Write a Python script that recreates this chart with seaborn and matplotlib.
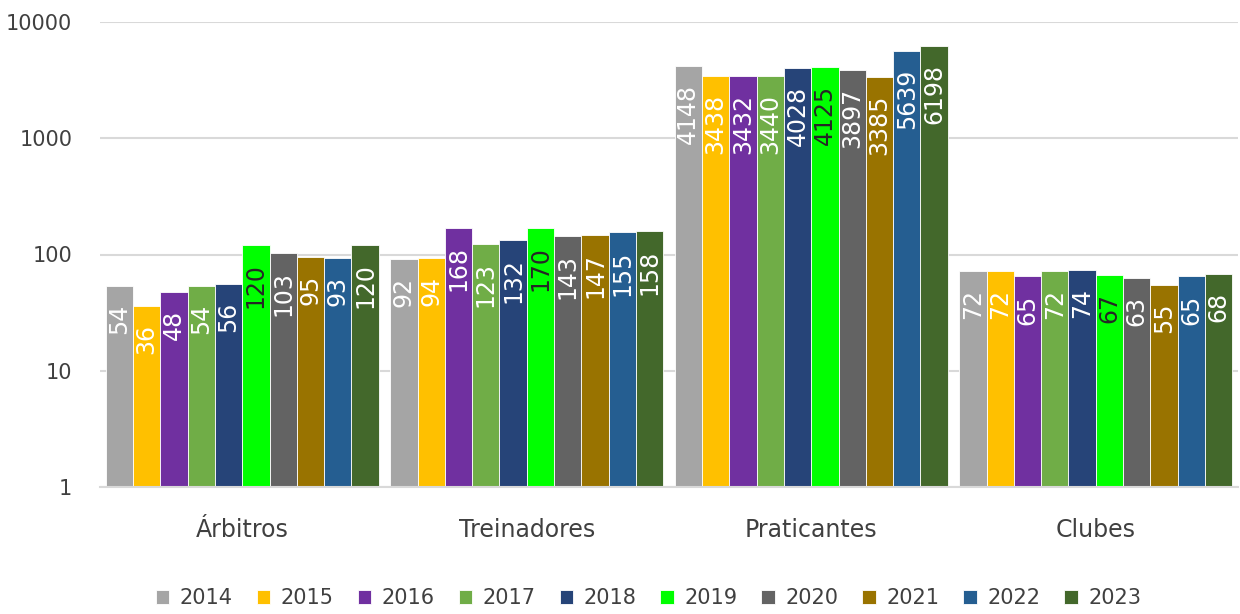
import pandas as pd
import matplotlib.pyplot as plt
import seaborn as sns

# dados
categorias = ['Árbitros', 'Treinadores', 'Praticantes', 'Clubes']
anos = ['2014', '2015', '2016', '2017', '2018', '2019', '2020', '2021', '2022', '2023']
arbitros = [54, 36, 48, 54, 56, 120, 103, 95, 93, 120]
treinadores = [92, 94, 168, 123, 132, 170, 143, 147, 155, 158]
praticantes = [4148, 3438, 3432, 3440, 4028, 4125, 3897, 3385, 5639, 6198]
clubes = [72, 72, 65, 72, 74, 67, 63, 55, 65, 68]
cores = ['#A5A5A5', '#FFC000', '#7030A0', '#70AD47', '#264478',
         '#00FF00', '#636363', '#997300', '#255E91', '#43682B']

valores = [arbitros, treinadores, praticantes, clubes]
rows = []
for cat, vals in zip(categorias, valores):
    for ano, v in zip(anos, vals):
        rows.append({'cat': cat, 'ano': ano, 'valor': v})
df = pd.DataFrame(rows)

sns.set_style('white')
plt.rcParams['font.family'] = ['DejaVu Sans']

fig = plt.figure(figsize=(12.4, 6.14), dpi=100)
ax = fig.add_axes([100 / 1240, 1 - 487 / 614, 1138 / 1240, 465 / 614])

sns.barplot(data=df, x='cat', y='valor', hue='ano', palette=cores,
            saturation=1, width=0.96, gap=0, ax=ax, legend=True,
            edgecolor='white', linewidth=0.6)
ax.set_yscale('log')
ax.set_ylim(1, 10000)
ax.set_xlim(-0.5, 3.5)
ax.set_yticks([1, 10, 100, 1000, 10000])
ax.set_yticklabels(['1', '10', '100', '1000', '10000'])
ax.minorticks_off()
ax.tick_params(axis='y', labelsize=15, colors='#404040', length=0, pad=20)
ax.tick_params(axis='x', labelsize=17, colors='#404040', length=0, pad=22)
ax.set_xlabel('')
ax.set_ylabel('')
ax.yaxis.grid(True, color='#D9D9D9', linewidth=1.5)
ax.set_axisbelow(True)
for s in ['top', 'right', 'left']:
    ax.spines[s].set_visible(False)
ax.spines['bottom'].set_color('#D9D9D9')
ax.spines['bottom'].set_linewidth(1.5)

# rótulos das barras
for i, cont in enumerate(ax.containers):
    cor_txt = '#262626' if anos[i] == '2019' else 'white'
    for j, bar in enumerate(cont):
        x = bar.get_x() + bar.get_width() / 2
        ax.annotate(str(valores[j][i]), (x, bar.get_height()), xytext=(0, -13),
                    textcoords='offset points', rotation=90, ha='center', va='top',
                    fontsize=17, color=cor_txt)

ax.legend_.remove()
handles, labels = ax.get_legend_handles_labels()
fig.legend(handles, labels, loc='center', bbox_to_anchor=(0.523, 1 - 598 / 614), ncol=10,
           frameon=False, fontsize=15, handlelength=0.65, handleheight=0.65,
           handletextpad=0.5, columnspacing=1.15, labelcolor='#404040')

fig.savefig('out.png', dpi=100)
